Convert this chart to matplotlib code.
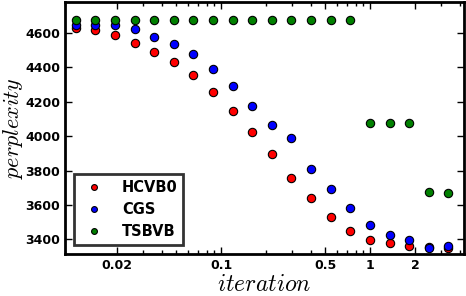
import matplotlib
matplotlib.use('Agg')
import matplotlib.pyplot as plt

plt.rcParams['font.family'] = ['DejaVu Sans']
plt.rcParams['font.weight'] = 'bold'
plt.rcParams['mathtext.fontset'] = 'cm'

# iteration values (log scale)
iters = [0.0106, 0.0143, 0.0194, 0.0263, 0.0356, 0.0482, 0.0653, 0.0884,
         0.120, 0.162, 0.220, 0.297, 0.403, 0.545, 0.739, 1.0, 1.354,
         1.833, 2.48, 3.36]

hcvb0 = [4632, 4615, 4586, 4544, 4492, 4434, 4354, 4256, 4145, 4022,
         3896, 3755, 3641, 3531, 3446, 3398, 3379, 3363, 3358, 3348]
cgs = [4648, 4648, 4644, 4621, 4577, 4534, 4478, 4389, 4289, 4177,
       4063, 3989, 3809, 3692, 3581, 3485, 3423, 3394, 3352, 3359]
tsbvb = [4673, 4673, 4673, 4673, 4673, 4673, 4673, 4673, 4673, 4673,
         4673, 4673, 4673, 4673, 4673, 4076, 4076, 4076, 3678, 3668]

xticks = [0.02, 0.1, 0.5, 1, 2]
xticklabels = ['0.02', '0.1', '0.5', '1', '2']
yticks = [3400, 3600, 3800, 4000, 4200, 4400, 4600]

fig = plt.figure(figsize=(4.66, 2.96), dpi=100)
ax = fig.add_axes([0.1395, 0.142, 0.8562, 0.851])

ax.plot(iters, hcvb0, 'o', color='red', mec='black', ms=6, mew=0.8, label='HCVB0')
ax.plot(iters, cgs, 'o', color='blue', mec='black', ms=6, mew=0.8, label='CGS')
ax.plot(iters, tsbvb, 'o', color='green', mec='black', ms=6, mew=0.8, label='TSBVB')

ax.set_xscale('log')
ax.set_xlim(0.00897, 4.27)
ax.set_ylim(3315, 4780)
ax.set_xticks(xticks)
ax.set_xticklabels(xticklabels)
ax.set_yticks(yticks)
ax.tick_params(which='both', direction='in', top=True, right=True, labelsize=9)
ax.tick_params(which='major', length=5, width=1)
ax.tick_params(which='minor', length=3, width=1)
for s in ax.spines.values():
    s.set_linewidth(2)

ax.set_xlabel('$iteration$', fontsize=17, labelpad=0)
ax.set_ylabel('$perplexity$', fontsize=16, labelpad=0)

leg = ax.legend(loc='lower left', fontsize=10.5, markerscale=0.7, numpoints=1,
                fancybox=False, borderaxespad=0.6, handletextpad=0.9)
leg.get_frame().set_edgecolor('black')
leg.get_frame().set_linewidth(2)

fig.savefig('out.png', dpi=100)
